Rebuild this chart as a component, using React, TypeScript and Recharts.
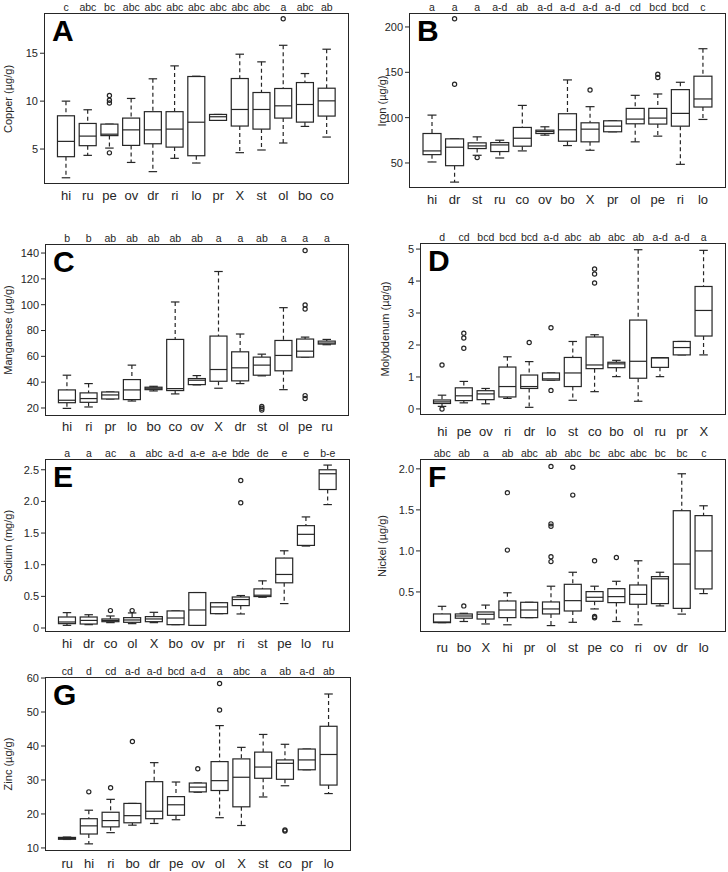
import React from 'react';
import { ComposedChart, Bar, XAxis, YAxis } from 'recharts';

const FONT = '"Liberation Sans", Arial, Helvetica, sans-serif';
const INK = '#262626';

// each box is [min, q1, median, q3, max]

// A - copper
const copperCats = ['hi', 'ru', 'pe', 'ov', 'dr', 'ri', 'lo', 'pr', 'X', 'st', 'ol', 'bo', 'co'];
const copperLetters = ['c', 'abc', 'bc', 'abc', 'abc', 'abc', 'abc', 'abc', 'abc', 'abc', 'a', 'abc', 'ab'];
const copperBoxes = [
  [2.0, 4.2, 5.8, 8.47, 10.0],
  [4.34, 5.35, 6.35, 7.67, 9.1],
  [5.1, 6.4, 6.55, 7.6, 7.6],
  [3.6, 5.38, 7.0, 8.23, 10.28],
  [2.64, 5.55, 7.0, 8.9, 12.33],
  [4.03, 5.2, 7.08, 8.9, 13.68],
  [3.54, 4.3, 7.8, 12.57, 12.6],
  [7.99, 7.99, 8.37, 8.61, 8.61],
  [4.62, 7.4, 9.13, 12.36, 14.9],
  [4.9, 7.08, 9.13, 10.9, 14.1],
  [5.63, 8.23, 9.51, 11.32, 15.83],
  [7.36, 7.81, 9.65, 11.94, 12.88],
  [6.25, 8.44, 10.03, 11.35, 15.42],
];
const copperOutliers = [[], [], [10.6, 10.1, 9.8, 4.6], [], [], [], [], [], [], [], [18.6], [], []];

// B - iron
const ironCats = ['hi', 'dr', 'st', 'ru', 'co', 'ov', 'bo', 'X', 'pr', 'ol', 'pe', 'ri', 'lo'];
const ironLetters = ['a', 'a', 'a', 'a-d', 'ab', 'a-d', 'a-d', 'a-d', 'a-d', 'cd', 'bcd', 'bcd', 'c'];
const ironBoxes = [
  [51.1, 59.2, 63.3, 82.5, 102.8],
  [28.9, 47.0, 67.4, 76.6, 76.6],
  [58.5, 65.9, 68.8, 72.2, 78.8],
  [55.5, 62.6, 69.9, 72.5, 75.1],
  [63.3, 68.5, 77.3, 89.2, 113.5],
  [80.7, 82.5, 84.7, 86.2, 89.9],
  [69.2, 74.0, 86.6, 104.3, 141.6],
  [64.0, 73.3, 87.3, 94.3, 112.1],
  [84.4, 84.4, 90.6, 96.5, 96.5],
  [73.3, 93.2, 98.4, 110.2, 124.6],
  [79.6, 92.9, 99.5, 110.2, 126.1],
  [48.5, 90.6, 104.7, 130.9, 139.0],
  [98.0, 111.7, 120.6, 145.7, 176.0],
];
const ironOutliers = [[], [209, 136.8], [55.9], [], [], [], [], [130.5], [], [], [147.9, 144.2], [], []];

// C - manganese
const manganeseCats = ['hi', 'ri', 'pr', 'lo', 'bo', 'co', 'ov', 'X', 'dr', 'st', 'ol', 'pe', 'ru'];
const manganeseLetters = ['b', 'b', 'ab', 'ab', 'ab', 'ab', 'ab', 'a', 'a', 'ab', 'a', 'a', 'a'];
const manganeseBoxes = [
  [19.7, 24.1, 26.0, 34.0, 45.4],
  [20.8, 24.4, 27.3, 31.7, 38.9],
  [27.0, 27.0, 30.1, 32.4, 32.4],
  [25.4, 26.5, 34.0, 42.0, 53.2],
  [33.2, 34.2, 35.3, 36.1, 36.8],
  [30.9, 33.5, 35.0, 73.1, 102.1],
  [37.9, 38.1, 41.5, 42.8, 45.1],
  [35.3, 40.7, 49.8, 75.7, 125.7],
  [38.9, 41.0, 51.1, 63.5, 77.3],
  [44.9, 45.4, 53.2, 59.4, 61.7],
  [34.2, 48.8, 60.7, 72.3, 97.7],
  [59.4, 59.4, 64.0, 73.4, 74.9],
  [69.0, 69.5, 70.3, 71.8, 73.1],
];
const manganeseOutliers = [[], [], [], [], [], [], [], [], [], [21.2, 19.8, 18.4], [], [142, 99.8, 96.7, 29.6, 27.4], []];

// D - molybdenum
const molyCats = ['hi', 'pe', 'ov', 'ri', 'dr', 'lo', 'st', 'co', 'bo', 'ol', 'ru', 'pr', 'X'];
const molyLetters = ['d', 'cd', 'bcd', 'bcd', 'bcd', 'a-d', 'abc', 'ab', 'abc', 'ab', 'a-d', 'a-d', 'a'];
const molyBoxes = [
  [0.08, 0.17, 0.22, 0.28, 0.43],
  [0.19, 0.26, 0.41, 0.66, 0.86],
  [0.16, 0.29, 0.47, 0.57, 0.64],
  [0.33, 0.375, 0.7, 1.31, 1.63],
  [0.05, 0.64, 0.7, 1.06, 1.48],
  [0.9, 0.9, 0.94, 1.125, 1.125],
  [0.27, 0.7, 1.125, 1.61, 2.11],
  [0.54, 1.26, 1.375, 2.25, 2.32],
  [1.01, 1.29, 1.41, 1.46, 1.52],
  [0.24, 0.96, 1.49, 2.78, 4.98],
  [1.01, 1.3, 1.6, 1.6, 1.6],
  [1.69, 1.69, 1.92, 2.11, 2.11],
  [1.69, 2.28, 3.08, 3.83, 4.96],
];
const molyOutliers = [[1.375, 0.0], [2.37, 2.22, 1.9], [], [], [2.08], [2.54, 0.58], [], [4.375, 4.22, 3.94], [], [], [], [], []];

// E - sodium
const sodiumCats = ['hi', 'dr', 'co', 'ol', 'X', 'bo', 'ov', 'pr', 'ri', 'st', 'pe', 'lo', 'ru'];
const sodiumLetters = ['a', 'a', 'ac', 'a', 'abc', 'a-d', 'a-e', 'a-e', 'bde', 'de', 'e', 'e', 'b-e'];
const sodiumBoxes = [
  [0.042, 0.069, 0.095, 0.174, 0.243],
  [0.053, 0.063, 0.12, 0.174, 0.21],
  [0.085, 0.1, 0.12, 0.143, 0.19],
  [0.069, 0.09, 0.127, 0.164, 0.238],
  [0.085, 0.1, 0.143, 0.18, 0.248],
  [0.053, 0.053, 0.158, 0.27, 0.27],
  [0.042, 0.042, 0.285, 0.56, 0.56],
  [0.227, 0.227, 0.333, 0.4, 0.4],
  [0.222, 0.354, 0.45, 0.49, 0.513],
  [0.486, 0.497, 0.518, 0.618, 0.745],
  [0.386, 0.714, 0.846, 1.105, 1.22],
  [1.295, 1.305, 1.48, 1.617, 1.755],
  [1.95, 2.188, 2.437, 2.5, 2.574],
];
const sodiumOutliers = [[], [], [0.275], [0.275], [], [], [], [], [2.33, 1.98], [], [], [], []];

// F - nickel
const nickelCats = ['ru', 'bo', 'X', 'hi', 'pr', 'ol', 'st', 'pe', 'co', 'ri', 'ov', 'dr', 'lo'];
const nickelLetters = ['abc', 'ab', 'a', 'ab', 'abc', 'ab', 'abc', 'bc', 'abc', 'abc', 'bc', 'bc', 'c'];
const nickelBoxes = [
  [0.126, 0.126, 0.134, 0.232, 0.325],
  [0.14, 0.18, 0.207, 0.232, 0.24],
  [0.11, 0.17, 0.228, 0.256, 0.34],
  [0.1, 0.187, 0.28, 0.39, 0.49],
  [0.187, 0.187, 0.28, 0.374, 0.374],
  [0.09, 0.232, 0.293, 0.378, 0.57],
  [0.13, 0.268, 0.394, 0.593, 0.74],
  [0.293, 0.386, 0.435, 0.504, 0.57],
  [0.14, 0.37, 0.443, 0.54, 0.63],
  [0.1, 0.35, 0.47, 0.585, 0.88],
  [0.33, 0.358, 0.66, 0.687, 0.74],
  [0.23, 0.3, 0.84, 1.49, 1.94],
  [0.48, 0.537, 1.0, 1.43, 1.55],
];
const nickelOutliers = [[], [0.33], [], [1.71, 1.01], [], [2.03, 1.33, 1.3, 0.93, 0.87], [2.02, 1.68], [0.88, 0.2, 0.185], [0.92], [], [], [], []];

// G - zinc
const zincCats = ['ru', 'hi', 'ri', 'bo', 'dr', 'pe', 'ov', 'ol', 'X', 'st', 'co', 'pr', 'lo'];
const zincLetters = ['cd', 'd', 'cd', 'a-d', 'a-d', 'bcd', 'a-d', 'a', 'abc', 'a', 'ab', 'a-d', 'ab'];
const zincBoxes = [
  [12.5, 12.55, 12.8, 13.1, 13.2],
  [11.2, 14.1, 16.5, 18.6, 21.1],
  [14.5, 16.2, 18.05, 20.5, 24.3],
  [16.7, 17.4, 19.5, 23.1, 23.1],
  [17.2, 18.6, 20.8, 29.5, 35.1],
  [18.3, 19.6, 22.7, 25.1, 29.4],
  [26.4, 26.5, 27.9, 29.1, 29.1],
  [18.9, 26.9, 29.8, 35.4, 46.0],
  [16.6, 22.1, 30.8, 36.2, 39.6],
  [25.0, 30.5, 33.8, 38.2, 43.4],
  [28.3, 30.2, 34.9, 35.9, 40.5],
  [33.0, 33.0, 35.9, 39.1, 39.1],
  [26.0, 28.5, 37.5, 45.8, 55.3],
];
const zincOutliers = [[], [26.5], [27.7], [41.3], [], [], [33.3], [58.4, 50.6], [], [], [15.3, 15.0], [], []];

const toRows = (cats, letters, boxes, outliers) =>
  cats.map((name, i) => {
    const [mn, q1, med, q3, mx] = boxes[i];
    return { name, letter: letters[i], range: [mn, mx], q1, med, q3, out: outliers[i] };
  });

const oneDec = (v) => (v === 0 ? '0' : v.toFixed(1));

const panels = [
  { tag: 'A', label: 'Copper (\u00b5g/g)', rows: toRows(copperCats, copperLetters, copperBoxes, copperOutliers),
    col: 0, box: [44, 13, 349, 184], domain: [1.35, 19.2], ticks: [5, 10, 15], gap: 11, labelX: 8 },
  { tag: 'B', label: 'Iron (\u00b5g/g)', rows: toRows(ironCats, ironLetters, ironBoxes, ironOutliers),
    col: 364, box: [409, 13, 726, 188], domain: [22.4, 215.4], ticks: [50, 100, 150, 200], gap: 11, labelX: 382 },
  { tag: 'C', label: 'Manganese (\u00b5g/g)', rows: toRows(manganeseCats, manganeseLetters, manganeseBoxes, manganeseOutliers),
    col: 0, box: [45, 244, 349, 416], domain: [13.8, 147], ticks: [20, 40, 60, 80, 100, 120, 140], gap: 10, labelX: 8 },
  { tag: 'D', label: 'Molybdenum (\u00b5g/g)', rows: toRows(molyCats, molyLetters, molyBoxes, molyOutliers),
    col: 364, box: [420, 243, 726, 415], domain: [-0.19, 5.19], ticks: [0, 1, 2, 3, 4, 5], gap: 16, labelX: 385 },
  { tag: 'E', label: 'Sodium (mg/g)', rows: toRows(sodiumCats, sodiumLetters, sodiumBoxes, sodiumOutliers),
    col: 0, box: [45, 459, 350, 632], domain: [-0.063, 2.67], ticks: [0, 0.5, 1, 1.5, 2, 2.5], fmt: oneDec, gap: 11, labelX: 8 },
  { tag: 'F', label: 'Nickel (\u00b5g/g)', rows: toRows(nickelCats, nickelLetters, nickelBoxes, nickelOutliers),
    col: 364, box: [420, 459, 726, 632], domain: [0.012, 2.12], ticks: [0.5, 1, 1.5, 2], fmt: oneDec, gap: 15, labelX: 382 },
  { tag: 'G', label: 'Zinc (\u00b5g/g)', rows: toRows(zincCats, zincLetters, zincBoxes, zincOutliers),
    col: 0, box: [45, 677, 351, 851], domain: [9.1, 60.3], ticks: [10, 20, 30, 40, 50, 60], gap: 12, labelX: 8 },
];

// draws one box from the range bar the library lays out (y/height = max..min)
const BoxShape = (props) => {
  const { x, y, width, height, payload } = props;
  const [lo, hi] = payload.range;
  const k = height / (hi - lo);
  const py = (v) => y + (hi - v) * k;
  const cx = x + width / 2;
  const half = width / 2;
  const cap = width / 4;
  const line = { stroke: INK, strokeWidth: 1.2, fill: 'none' };
  return (
    <g>
      <line x1={cx} x2={cx} y1={py(hi)} y2={py(payload.q3)} {...line} strokeDasharray="4 3" />
      <line x1={cx} x2={cx} y1={py(payload.q1)} y2={py(lo)} {...line} strokeDasharray="4 3" />
      <line x1={cx - cap} x2={cx + cap} y1={py(hi)} y2={py(hi)} {...line} />
      <line x1={cx - cap} x2={cx + cap} y1={py(lo)} y2={py(lo)} {...line} />
      <rect x={cx - half} y={py(payload.q3)} width={width} height={Math.max(py(payload.q1) - py(payload.q3), 0.5)} {...line} fill="#fff" />
      <line x1={cx - half} x2={cx + half} y1={py(payload.med)} y2={py(payload.med)} {...line} />
      {payload.out.map((v, i) => (
        <circle key={i} cx={cx} cy={py(v)} r={2.1} {...line} />
      ))}
    </g>
  );
};

const TOP = 14;
const AXIS_H = 28;

function Panel({ p }) {
  const [L, T, R, B] = p.box;
  const boxH = B - T;
  const w = R - p.col + 4;
  const h = TOP + boxH + AXIS_H;
  const pad = (0.52 * (R - L)) / 14.04;
  const labelY = TOP + boxH + p.gap;
  const letterY = TOP - 6;

  const renderTick = (t) => {
    const row = p.rows[t.index];
    return (
      <g>
        <text x={t.x} y={labelY} textAnchor="middle" dominantBaseline="central" fontSize={13} fill={INK} fontFamily={FONT}>
          {t.payload.value}
        </text>
        <text x={t.x} y={letterY} textAnchor="middle" dominantBaseline="central" fontSize={10.5} fill={INK} fontFamily={FONT}>
          {row ? row.letter : ''}
        </text>
      </g>
    );
  };

  return (
    <>
      <div style={{ position: 'absolute', left: p.col, top: T - TOP }}>
        <ComposedChart width={w} height={h} data={p.rows} margin={{ top: TOP, right: 4, bottom: 0, left: 0 }}>
          <XAxis dataKey="name" type="category" axisLine={false} tickLine={false} interval={0} height={AXIS_H}
            padding={{ left: pad, right: pad }} tick={renderTick} />
          <YAxis type="number" domain={p.domain} ticks={p.ticks} allowDataOverflow width={L - p.col}
            axisLine={false} tickLine={{ stroke: INK }} tickSize={4} tickMargin={2} interval={0}
            tickFormatter={p.fmt}
            tick={{ fontSize: 11, fill: INK, fontFamily: FONT }} />
          <Bar dataKey="range" isAnimationActive={false} shape={BoxShape} />
        </ComposedChart>
      </div>
      <div style={{ position: 'absolute', left: L, top: T, width: R - L, height: boxH, boxSizing: 'border-box',
        border: `1px solid ${INK}`, pointerEvents: 'none' }} />
      <div style={{ position: 'absolute', left: L + 8, top: T + 3, fontFamily: FONT, fontWeight: 900, fontSize: 30,
        lineHeight: 1, color: '#000' }}>{p.tag}</div>
      <div style={{ position: 'absolute', left: p.labelX, top: (T + B) / 2, width: 0, height: 0 }}>
        <div style={{ position: 'absolute', left: 0, top: 0, transform: 'translate(-50%, -50%) rotate(-90deg)',
          whiteSpace: 'nowrap', fontFamily: FONT, fontSize: 11, color: INK }}>{p.label}</div>
      </div>
    </>
  );
}

export default function App() {
  return (
    <div style={{ position: 'absolute', left: 0, top: 0, width: 728, height: 872, background: '#fff', overflow: 'hidden' }}>
      {panels.map((p) => (
        <Panel key={p.tag} p={p} />
      ))}
    </div>
  );
}
